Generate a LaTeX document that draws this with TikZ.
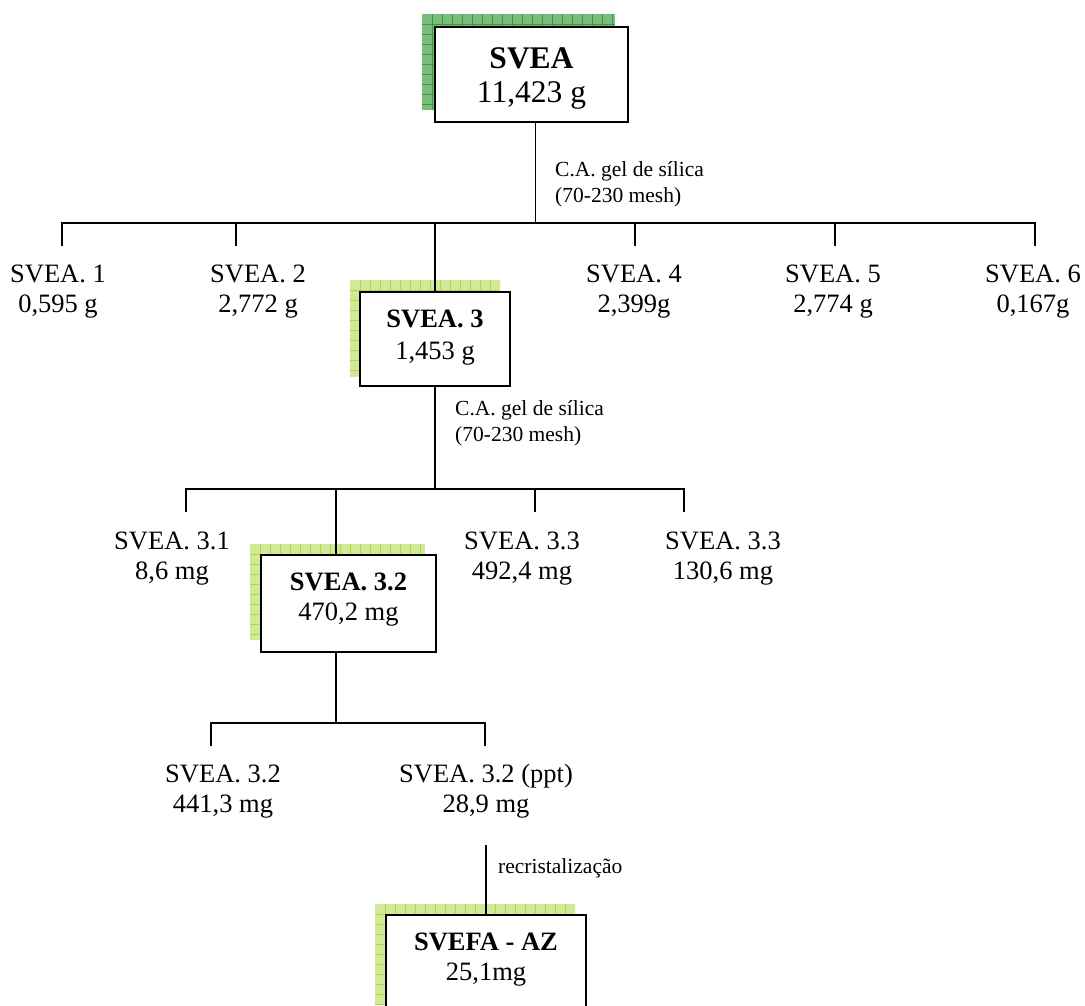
\documentclass[tikz,border=0pt]{standalone}
\usepackage{fontspec}
\setmainfont{Liberation Serif}
\definecolor{gdark}{RGB}{122,188,122}
\definecolor{gdarkline}{RGB}{65,150,65}
\definecolor{glight}{RGB}{210,233,152}
\definecolor{glightline}{RGB}{176,214,78}
\newcommand\gridshadow[6]{%
  \fill[#5] (#1,#2) rectangle (#3,#4);
  \begin{scope}
    \clip (#1,#2) rectangle (#3,#4);
    \foreach \gi in {1,...,25}{
      \draw[#6, line width=0.8pt] ({#1+10*\gi},#2) -- ({#1+10*\gi},#4);
      \draw[#6, line width=0.8pt] (#1,{#2+10*\gi}) -- (#3,{#2+10*\gi});
    }
  \end{scope}}
\begin{document}
\begin{tikzpicture}[x=1pt,y=-1pt,
  conn/.style={line width=1.8pt},
  thinconn/.style={line width=0.9pt},
  box/.style={draw, line width=1.8pt, fill=white, inner sep=0pt, outer sep=0pt, anchor=north west},
  lbl/.style={inner sep=0pt, anchor=base, font=\fontsize{26.5}{30}\selectfont},
  blbl/.style={inner sep=0pt, anchor=base, font=\fontsize{26.5}{30}\selectfont\bfseries},
  toplbl/.style={inner sep=0pt, anchor=base, font=\fontsize{31.5}{34}\selectfont},
  toptitle/.style={inner sep=0pt, anchor=base, font=\fontsize{31.5}{34}\selectfont\bfseries},
  note/.style={inner sep=0pt, anchor=base west, font=\fontsize{21.5}{25}\selectfont}]
\useasboundingbox (0,0) rectangle (1085,1005);

% shadows
\gridshadow{422}{14}{615}{110}{gdark}{gdarkline}
\gridshadow{350}{280}{500}{377}{glight}{glightline}
\gridshadow{250}{544}{425}{640}{glight}{glightline}
\gridshadow{375}{904}{575}{1005}{glight}{glightline}

% boxes
\node[box, minimum width=193pt, minimum height=95pt] (svea) at (435,27) {};
\node[box, minimum width=150pt, minimum height=94pt] (svea3) at (360,292) {};
\node[box, minimum width=175pt, minimum height=97pt] (svea32) at (261,555) {};
\node[box, minimum width=200pt, minimum height=110pt] (svefa) at (386,915) {};

% box texts
\node[toptitle] (svea-t) at (531.5,68) {SVEA};
\node[toplbl] (svea-m) at (531.5,102) {11,423 g};
\node[blbl] (svea3-t) at (435,327) {SVEA. 3};
\node[lbl] (svea3-m) at (435,359) {1,453 g};
\node[blbl] (svea32-t) at (348.5,590) {SVEA. 3.2};
\node[lbl] (svea32-m) at (348.5,620) {470,2 mg};
\node[blbl] (svefa-t) at (486,950) {SVEFA - AZ};
\node[lbl] (svefa-m) at (486,980) {25,1mg};

% level 1 connectors
\coordinate (j0) at (535,223);
\draw[thinconn] (svea.south -| j0) -- (j0);
\coordinate (b1l) at (62,223);
\coordinate (b1r) at (1035,223);
\coordinate (d11) at (62,246);
\coordinate (d12) at (236,246);
\coordinate (d14) at (635,246);
\coordinate (d15) at (835,246);
\coordinate (d16) at (1035,246);
\draw[conn] (d11) -- (b1l) -- (b1r) -- (d16);
\draw[conn] (d12 |- b1l) -- (d12);
\draw[conn] (d14 |- b1l) -- (d14);
\draw[conn] (d15 |- b1l) -- (d15);
\draw[conn] (svea3.north |- b1l) -- (svea3.north);
\node[note] (ca1a) at (555,176) {C.A. gel de sílica};
\node[note] (ca1b) at (555,202) {(70-230 mesh)};

% level 1 labels
\node[lbl] (s1) at (58,282) {SVEA. 1};
\node[lbl] (s1m) at (58,312) {0,595 g};
\node[lbl] (s2) at (258,282) {SVEA. 2};
\node[lbl] (s2m) at (258,312) {2,772 g};
\node[lbl] (s4) at (634,282) {SVEA. 4};
\node[lbl] (s4m) at (634,312) {2,399g};
\node[lbl] (s5) at (833,282) {SVEA. 5};
\node[lbl] (s5m) at (833,312) {2,774 g};
\node[lbl] (s6) at (1033,282) {SVEA. 6};
\node[lbl] (s6m) at (1033,312) {0,167g};

% level 2 connectors
\coordinate (b2) at (435,489);
\draw[conn] (svea3.south) -- (svea3.south |- b2);
\coordinate (b2l) at (186,489);
\coordinate (b2r) at (684,489);
\coordinate (d21) at (186,512);
\coordinate (d23) at (535,512);
\coordinate (d24) at (684,512);
\draw[conn] (d21) -- (b2l) -- (b2r) -- (d24);
\draw[conn] (d23 |- b2l) -- (d23);
\coordinate (j32) at (336,555);
\draw[conn] (j32 |- b2l) -- (j32);
\node[note] (ca2a) at (455,415) {C.A. gel de sílica};
\node[note] (ca2b) at (455,441) {(70-230 mesh)};

% level 2 labels
\node[lbl] (s31) at (172,549) {SVEA. 3.1};
\node[lbl] (s31m) at (172,579) {8,6 mg};
\node[lbl] (s33a) at (522,549) {SVEA. 3.3};
\node[lbl] (s33am) at (522,579) {492,4 mg};
\node[lbl] (s33b) at (723,549) {SVEA. 3.3};
\node[lbl] (s33bm) at (723,579) {130,6 mg};

% level 3 connectors
\coordinate (j32b) at (336,652);
\coordinate (b3) at (336,723);
\draw[conn] (j32b) -- (b3);
\coordinate (b3l) at (211,723);
\coordinate (b3r) at (485,723);
\coordinate (d31) at (211,746);
\coordinate (d32) at (485,746);
\draw[conn] (d31) -- (b3l) -- (b3r) -- (d32);

% level 3 labels
\node[lbl] (s32) at (223,782) {SVEA. 3.2};
\node[lbl] (s32m) at (223,812) {441,3 mg};
\node[lbl] (s32p) at (486,782) {SVEA. 3.2 (ppt)};
\node[lbl] (s32pm) at (486,812) {28,9 mg};

% recrystallization
\coordinate (rtop) at (486,845);
\draw[conn] (rtop) -- (svefa.north -| rtop);
\node[note] (rec) at (498,873) {recristalização};
\end{tikzpicture}
\end{document}
